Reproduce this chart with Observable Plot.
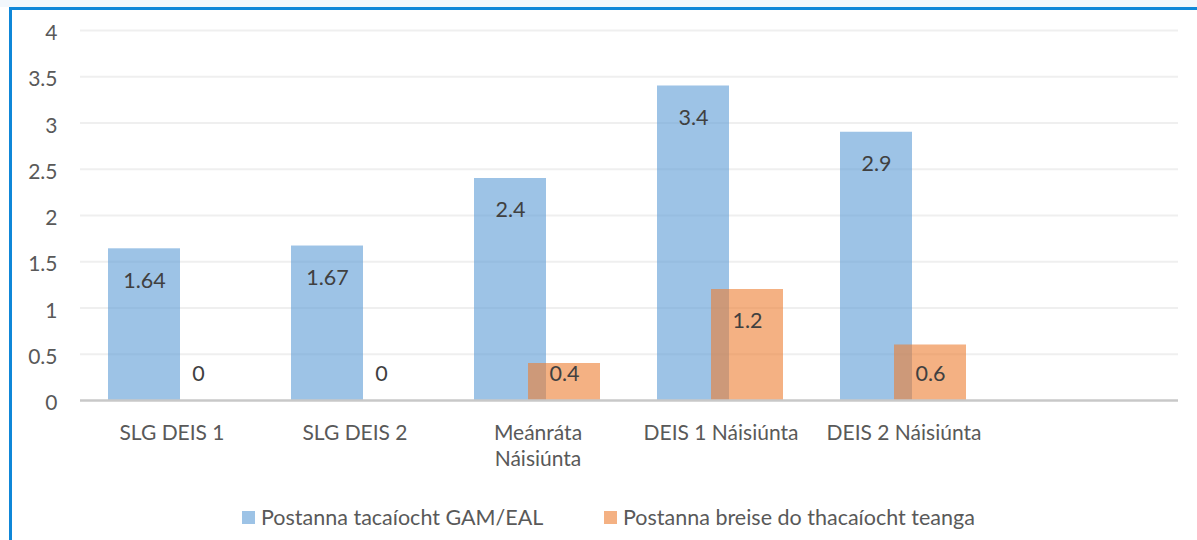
<!DOCTYPE html>
<html>
<head>
<meta charset="utf-8">
<script src="https://cdn.jsdelivr.net/npm/d3@7"></script>
<script src="https://cdn.jsdelivr.net/npm/@observablehq/plot@0.6"></script>
<style>
  html, body { margin: 0; padding: 0; background: #fff; }
  body { position: relative; width: 1197px; height: 540px; overflow: hidden; font-family: Lato, sans-serif; }
  #topstrip { position: absolute; left: 0; top: 0; width: 1197px; height: 7px; background: #F2F7FC; }
  #frame { position: absolute; left: 9px; top: 7px; width: 1188px; height: 533px; border-left: 3px solid #0F87D8; border-top: 3px solid #0F87D8; box-sizing: border-box; pointer-events: none; }
  #chart { position: absolute; left: 0; top: 0; width: 1197px; height: 480px; overflow: hidden; }
  #legend { position: absolute; left: 0; top: 504px; width: 1197px; height: 28px; font-size: 21.5px; color: #595959; white-space: nowrap; overflow: hidden; }
  .sw { width: 13px; height: 13px; display: inline-block; margin-right: 6px; }
  .item { position: absolute; top: 0; display: flex; align-items: center; }
</style>
</head>
<body>
<div id="topstrip"></div>
<div id="chart"></div>
<div id="legend"></div>
<div id="frame"></div>
<script>
const categories = ["SLG DEIS 1", "SLG DEIS 2", "Meánráta\nNáisiúnta", "DEIS 1 Náisiúnta", "DEIS 2 Náisiúnta", " "];
const seriesNames = ["Postanna tacaíocht GAM/EAL", "Postanna breise do thacaíocht teanga"];
const gamEal = [1.64, 1.67, 2.4, 3.4, 2.9];
const breise = [0, 0, 0.4, 1.2, 0.6];
const yTicks = [0, 0.5, 1, 1.5, 2, 2.5, 3, 3.5, 4];
const seriesColors = ["#5B9BD5", "#ED7D31"];

const blueRows = gamEal.map((v, i) => ({cat: categories[i], value: v, series: seriesNames[0]}));
const orangeRows = breise.map((v, i) => ({cat: categories[i], value: v, series: seriesNames[1]}));

const labelY = d => Math.max(d.value - 0.346, 0.28);

const chart = Plot.plot({
  width: 1197,
  height: 480,
  marginLeft: 80,
  marginRight: 19,
  marginTop: 30,
  marginBottom: 80,
  style: {fontFamily: "Lato, sans-serif", fontSize: "21px", color: "#595959", background: "transparent"},
  x: {domain: categories, padding: 0, label: null},
  y: {domain: [0, 4], label: null},
  marks: [
    Plot.gridY(yTicks.filter(t => t > 0), {stroke: "#EFEFEF", strokeOpacity: 1, strokeWidth: 2}),
    Plot.barY(blueRows, {x: "cat", y: "value", fill: seriesColors[0], fillOpacity: 0.6, insetLeft: 28, insetRight: 83}),
    Plot.barY(orangeRows, {x: "cat", y: "value", fill: seriesColors[1], fillOpacity: 0.6, insetLeft: 82, insetRight: 29}),
    Plot.ruleY([0], {stroke: "#C8C8C8", strokeWidth: 2.5}),
    Plot.text(blueRows, {x: "cat", y: labelY, text: d => String(d.value), dx: -27.5, fill: "#404040", fontSize: 21.5}),
    Plot.text(orangeRows, {x: "cat", y: labelY, text: d => String(d.value), dx: 26.5, fill: "#404040", fontSize: 21.5}),
    Plot.axisY({ticks: yTicks, tickFormat: d => String(d), tickSize: 0, tickPadding: 23, fontSize: 21, dy: 3, label: null}),
    Plot.axisX({tickSize: 0, tickPadding: 22, fontSize: 21, lineHeight: 1.2, label: null})
  ]
});
document.getElementById("chart").appendChild(chart);

const legend = document.getElementById("legend");
const legendLeft = [242, 604];
seriesNames.forEach((name, i) => {
  const item = document.createElement("div");
  item.className = "item";
  item.style.left = legendLeft[i] + "px";
  const sw = document.createElement("span");
  sw.className = "sw";
  sw.style.background = seriesColors[i];
  sw.style.opacity = 0.6;
  const tx = document.createElement("span");
  tx.textContent = name;
  item.appendChild(sw);
  item.appendChild(tx);
  legend.appendChild(item);
});
</script>
</body>
</html>
